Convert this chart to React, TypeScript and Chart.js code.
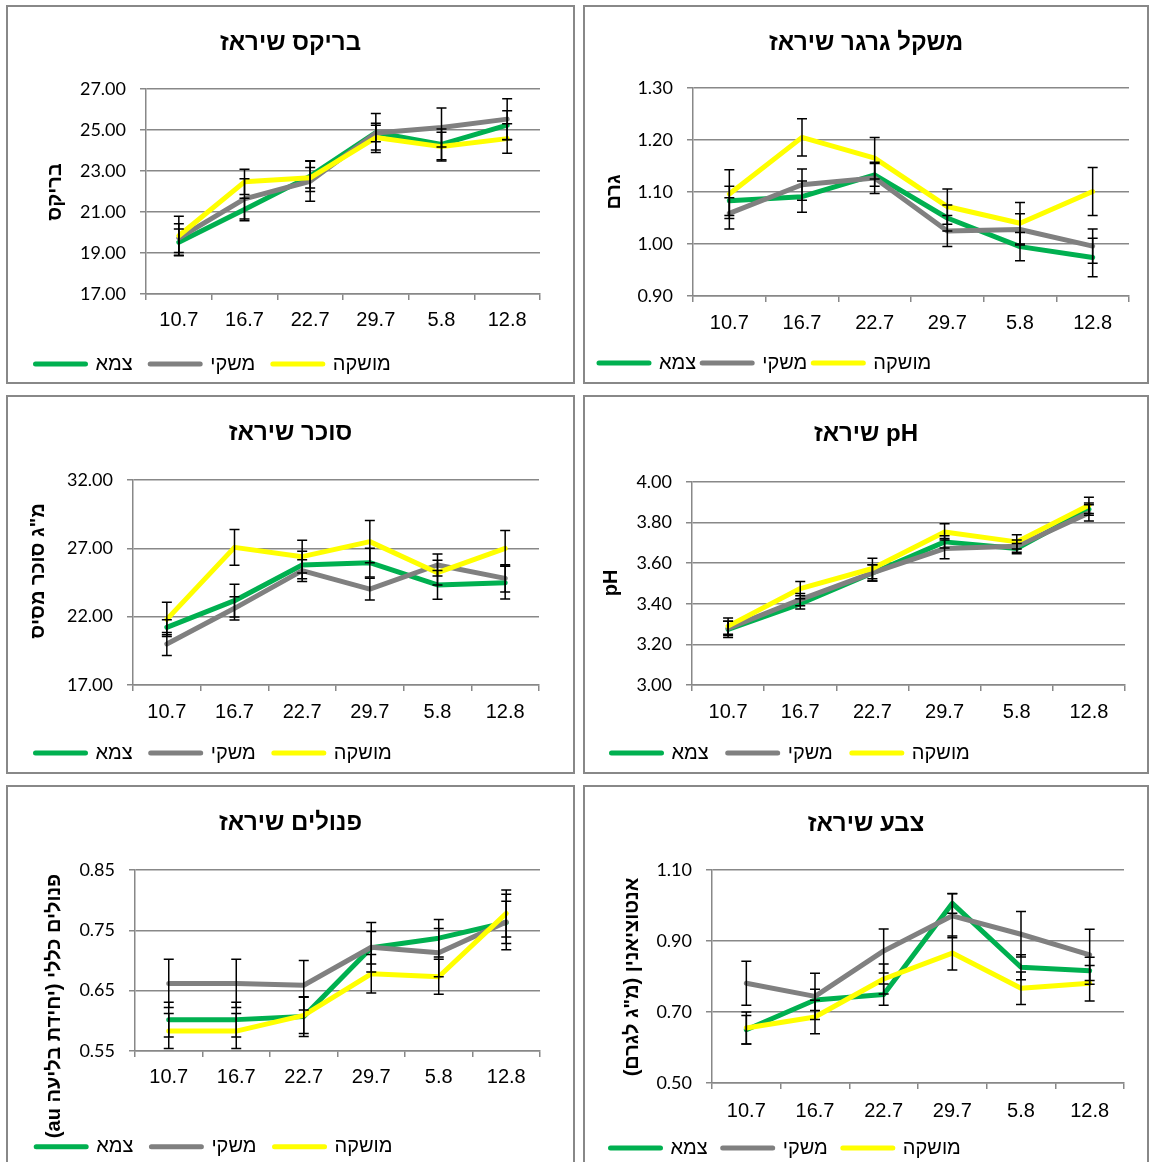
import React, { useEffect, useRef } from 'react';
import { Chart, registerables } from 'chart.js';

Chart.register(...registerables);

// ---------- data ----------
const DATES = ['10.7', '16.7', '22.7', '29.7', '5.8', '12.8'];
const SERIES_NAMES = ['צמא', 'משקי', 'מושקה'];
const SERIES_COLORS = ['#00B050', '#808080', '#FFFF00'];

// בריקס
const brixTzama = [19.52, 21.12, 22.75, 24.88, 24.3, 25.24];
const brixMashki = [19.73, 21.64, 22.5, 24.85, 25.12, 25.53];
const brixMushke = [19.84, 22.47, 22.67, 24.63, 24.19, 24.58];
const brixTzamaErr = [0.65, 0.55, 0.75, 0.45, 0.75, 0.7];
const brixMashkiErr = [0.7, 0.98, 0.98, 0.95, 0.95, 1.0];
const brixMushkeErr = [0.95, 0.62, 0.5, 0.6, 0.7, 0.72];

// משקל גרגר
const weightTzama = [1.083, 1.091, 1.133, 1.05, 0.995, 0.974];
const weightMashki = [1.059, 1.114, 1.127, 1.025, 1.028, 0.996];
const weightMushke = [1.096, 1.205, 1.165, 1.072, 1.04, 1.101];
const weightTzamaErr = [0.028, 0.03, 0.022, 0.025, 0.027, 0.037];
const weightMashkiErr = [0.03, 0.03, 0.03, 0.03, 0.03, 0.033];
const weightMushkeErr = [0.047, 0.036, 0.04, 0.034, 0.04, 0.046];

// סוכר
const sugarTzama = [21.22, 23.17, 25.78, 25.95, 24.32, 24.49];
const sugarMashki = [20.0, 22.61, 25.37, 24.02, 25.78, 24.8];
const sugarMushke = [21.8, 27.07, 26.39, 27.49, 25.22, 27.0];
const sugarTzamaErr = [0.55, 1.2, 1.0, 1.05, 1.05, 1.2];
const sugarMashkiErr = [0.85, 0.85, 0.8, 0.8, 0.8, 1.0];
const sugarMushkeErr = [1.25, 1.3, 1.2, 1.55, 0.9, 1.3];

// pH
const phTzama = [3.274, 3.4, 3.552, 3.705, 3.672, 3.866];
const phMashki = [3.279, 3.421, 3.552, 3.672, 3.684, 3.848];
const phMushke = [3.29, 3.475, 3.574, 3.754, 3.705, 3.885];
const phTzamaErr = [0.04, 0.025, 0.04, 0.03, 0.025, 0.03];
const phMashkiErr = [0.035, 0.03, 0.04, 0.05, 0.03, 0.04];
const phMushkeErr = [0.04, 0.035, 0.05, 0.04, 0.035, 0.04];

// פנולים
const phenolTzama = [0.602, 0.602, 0.607, 0.721, 0.737, 0.763];
const phenolMashki = [0.662, 0.662, 0.659, 0.722, 0.713, 0.764];
const phenolMushke = [0.583, 0.583, 0.609, 0.678, 0.673, 0.778];
const phenolTzamaErr = [0.029, 0.029, 0.033, 0.027, 0.031, 0.035];
const phenolMashkiErr = [0.04, 0.04, 0.041, 0.041, 0.04, 0.046];
const phenolMushkeErr = [0.029, 0.029, 0.03, 0.032, 0.029, 0.039];

// צבע
const colorTzama = [0.65, 0.734, 0.749, 1.006, 0.826, 0.816];
const colorMashki = [0.781, 0.744, 0.872, 0.971, 0.919, 0.861];
const colorMushke = [0.655, 0.686, 0.793, 0.866, 0.767, 0.781];
const colorTzamaErr = [0.04, 0.03, 0.03, 0.028, 0.035, 0.038];
const colorMashkiErr = [0.062, 0.065, 0.062, 0.062, 0.064, 0.072];
const colorMushkeErr = [0.045, 0.047, 0.042, 0.048, 0.046, 0.05];

// titles and axis ranges
const TITLES = ['בריקס שיראז', 'משקל גרגר שיראז', 'סוכר שיראז', 'pH שיראז', 'פנולים שיראז', 'צבע שיראז'];
const Y_TITLES = ['בריקס', 'גרם', 'מ"ג סוכר מסיס', 'pH', 'פנולים כללי (יחידת בליעה au)', 'אנטוציאנין (מ"ג לגרם)'];
const Y_MIN = [17, 0.9, 17, 3.0, 0.55, 0.5];
const Y_MAX = [27, 1.3, 32, 4.0, 0.85, 1.1];
const Y_STEP = [2, 0.1, 5, 0.2, 0.1, 0.2];

const VALUES = [
  [brixTzama, brixMashki, brixMushke],
  [weightTzama, weightMashki, weightMushke],
  [sugarTzama, sugarMashki, sugarMushke],
  [phTzama, phMashki, phMushke],
  [phenolTzama, phenolMashki, phenolMushke],
  [colorTzama, colorMashki, colorMushke],
];
const ERRORS = [
  [brixTzamaErr, brixMashkiErr, brixMushkeErr],
  [weightTzamaErr, weightMashkiErr, weightMushkeErr],
  [sugarTzamaErr, sugarMashkiErr, sugarMushkeErr],
  [phTzamaErr, phMashkiErr, phMushkeErr],
  [phenolTzamaErr, phenolMashkiErr, phenolMushkeErr],
  [colorTzamaErr, colorMashkiErr, colorMushkeErr],
];

// ---------- layout (page px / canvas px) ----------
const LAYOUT = [
  { box: [6, 5, 569, 379], area: [138, 82, 532, 287], titleY: 36, yTitle: [47, 185], legendY: 357, legendPad: 17.5, padL: 10, xPad: 8.5 },
  { box: [583, 5, 566, 379], area: [108, 81, 544, 289], titleY: 36, yTitle: [29.5, 185], legendY: 356, legendPad: 6, padL: 8, xPad: 9 },
  { box: [6, 395, 569, 379], area: [125, 83, 531, 288], titleY: 36, yTitle: [30.5, 174], legendY: 356, legendPad: 18, padL: 9.5, xPad: 9.5 },
  { box: [583, 395, 566, 379], area: [107, 85, 540, 288], titleY: 37, yTitle: [26, 186], legendY: 356, legendPad: 19, padL: 7.5, xPad: 9.5 },
  { box: [6, 785, 569, 379], area: [127, 83, 532, 264], titleY: 36, yTitle: [46, 219], legendY: 359.7, legendPad: 18, padL: 10.2, xPad: 8.5 },
  { box: [583, 785, 566, 379], area: [127, 83, 539, 296], titleY: 37, yTitle: [47, 190], legendY: 361, legendPad: 15, padL: 10.5, xPad: 10 },
];

const GRID = '#888888';
const SANS = '"Liberation Sans", Arial, sans-serif';
const TITLE_SIZE = 24;
const LEGEND_SIZE = 20;
const YTITLE_SIZE = 20;

const errorBarsPlugin = {
  id: 'errorBars',
  afterDatasetsDraw(chart: any) {
    const { ctx } = chart;
    const yScale = chart.scales.y;
    ctx.save();
    ctx.strokeStyle = '#000';
    ctx.lineWidth = 1.5;
    chart.data.datasets.forEach((ds: any, i: number) => {
      const meta = chart.getDatasetMeta(i);
      if (!meta.visible || !ds.errors) return;
      meta.data.forEach((pt: any, j: number) => {
        const v = ds.data[j];
        const e = ds.errors[j];
        const x = pt.x;
        const yTop = yScale.getPixelForValue(v + e);
        const yBot = yScale.getPixelForValue(v - e);
        ctx.beginPath();
        ctx.moveTo(x, yTop);
        ctx.lineTo(x, yBot);
        ctx.moveTo(x - 5, yTop);
        ctx.lineTo(x + 5, yTop);
        ctx.moveTo(x - 5, yBot);
        ctx.lineTo(x + 5, yBot);
        ctx.stroke();
      });
    });
    ctx.restore();
  },
};

const yTitlePlugin = {
  id: 'yTitle',
  afterDraw(chart: any, _args: any, opts: any) {
    if (!opts || !opts.text) return;
    const ctx = chart.ctx;
    ctx.save();
    ctx.translate(opts.x, opts.y);
    ctx.rotate(-Math.PI / 2);
    ctx.font = `bold ${YTITLE_SIZE}px ${SANS}`;
    ctx.fillStyle = '#000';
    ctx.textAlign = 'center';
    ctx.textBaseline = 'middle';
    ctx.fillText(opts.text, 0, 0);
    ctx.restore();
  },
};

function Panel({ idx }: { idx: number }) {
  const ref = useRef<HTMLCanvasElement | null>(null);
  const L = LAYOUT[idx];
  const cw = L.box[2] - 4;
  const ch = L.box[3] - 4;

  useEffect(() => {
    if (!ref.current) return;
    const [aL, aT, aR, aB] = L.area;
    const padL = L.padL;
    const padR = padL;
    const padBottom = ch - 10 - LEGEND_SIZE / 2 - L.legendY;
    const legendTop = L.legendY - LEGEND_SIZE / 2 - L.legendPad;
    const xAxisH = legendTop - aB;
    const titleLine = TITLE_SIZE * 1.2;
    const titlePadTop = L.titleY - titleLine / 2;
    const titlePadBottom = aT - titlePadTop - titleLine;

    const datasets = SERIES_NAMES.map((name, s) => ({
      label: name,
      data: VALUES[idx][s],
      errors: ERRORS[idx][s],
      borderColor: SERIES_COLORS[s],
      backgroundColor: SERIES_COLORS[s],
      borderWidth: 5,
      pointRadius: 0,
      pointHoverRadius: 0,
      tension: 0,
      fill: false,
      borderJoinStyle: 'round',
      borderCapStyle: 'round',
      order: 3 - s,
    }));

    const chart = new Chart(ref.current, {
      type: 'line',
      data: { labels: DATES, datasets: datasets as any },
      options: {
        animation: false,
        responsive: false,
        events: [],
        layout: { padding: { left: padL, right: padR, top: 0, bottom: padBottom } },
        scales: {
          x: {
            offset: true,
            grid: { display: true, drawOnChartArea: false, drawTicks: true, tickLength: 6, offset: true, color: GRID, lineWidth: 1.5 },
            border: { display: true, color: GRID, width: 1.5 },
            ticks: { color: '#000', font: { family: SANS, size: 20 }, padding: L.xPad, maxRotation: 0, autoSkip: false },
            afterFit: (s: any) => { s.height = xAxisH; },
          },
          y: {
            min: Y_MIN[idx],
            max: Y_MAX[idx],
            ticks: {
              stepSize: Y_STEP[idx],
              color: '#000',
              padding: 14,
              font: { family: 'Lato, "Liberation Sans", sans-serif', size: 18 },
              callback: (v: any) => Number(v).toFixed(2),
            },
            grid: { color: GRID, lineWidth: 1.5, tickLength: 6, drawTicks: true },
            border: { display: true, color: GRID, width: 1.5 },
            afterFit: (s: any) => { s.width = aL - padL; },
          },
          yRight: {
            type: 'linear',
            position: 'right',
            display: true,
            grid: { display: false },
            border: { display: false },
            ticks: { display: false },
            afterFit: (s: any) => { s.width = cw - padR - aR; },
          },
        } as any,
        plugins: {
          title: {
            display: true,
            text: TITLES[idx],
            color: '#000',
            font: { family: SANS, size: TITLE_SIZE, weight: 'bold' },
            padding: { top: titlePadTop, bottom: titlePadBottom },
          },
          legend: {
            display: true,
            position: 'bottom',
            align: 'start',
            labels: {
              boxWidth: 50,
              boxHeight: 0,
              padding: L.legendPad,
              color: '#000',
              font: { family: SANS, size: LEGEND_SIZE },
              sort: (a: any, b: any) => a.datasetIndex - b.datasetIndex,
            },
          },
          tooltip: { enabled: false },
          yTitle: { text: Y_TITLES[idx], x: L.yTitle[0], y: L.yTitle[1] },
        } as any,
      },
      plugins: [errorBarsPlugin, yTitlePlugin],
    });
    return () => chart.destroy();
  }, [idx]);

  return (
    <div
      style={{
        position: 'absolute',
        left: L.box[0],
        top: L.box[1],
        width: L.box[2],
        height: L.box[3],
        border: `2px solid ${GRID}`,
        boxSizing: 'border-box',
        background: '#fff',
      }}
    >
      <canvas ref={ref} width={cw} height={ch} style={{ display: 'block', direction: 'rtl', width: cw, height: ch }} />
    </div>
  );
}

export default function App() {
  return (
    <div style={{ position: 'absolute', left: 0, top: 0, width: 1151, height: 1162, background: '#fff', overflow: 'hidden' }}>
      {LAYOUT.map((_, i) => (
        <Panel key={i} idx={i} />
      ))}
    </div>
  );
}
